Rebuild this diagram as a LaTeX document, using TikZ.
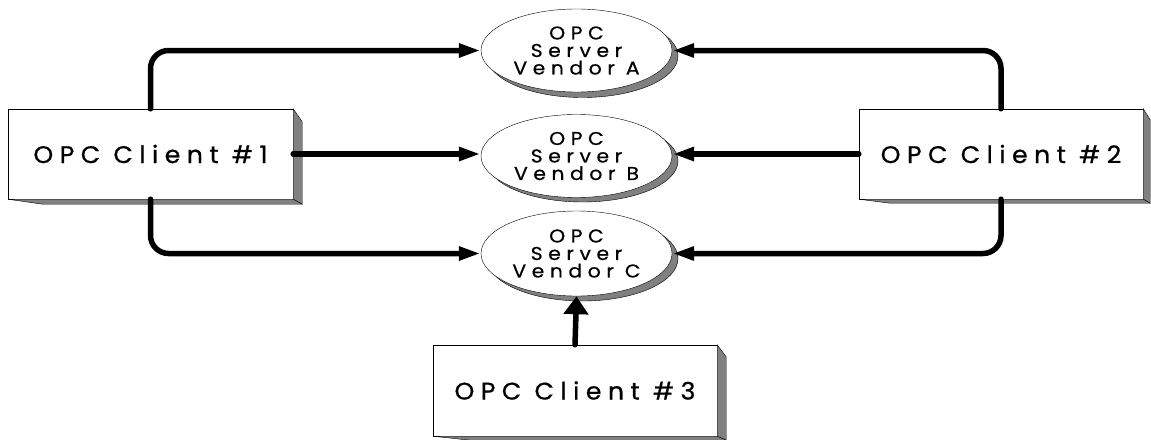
\documentclass[tikz,border=0pt]{standalone}
\usepackage{fontspec}
\setmainfont{Poppins}
\usepackage{tikz}
\usetikzlibrary{arrows.meta,shapes.geometric}
\definecolor{sidegrey}{RGB}{128,128,128}

\begin{document}
\begin{tikzpicture}[x=1pt,y=-1pt,
		client/.style={draw=black, fill=white, thin, minimum width=285pt, minimum height=90pt, inner sep=0pt, font=\fontsize{24}{26}\selectfont\addfontfeature{LetterSpace=27,FakeStretch=1.05,FakeBold=0.7}},
		server/.style={ellipse, draw=black, fill=white, thin, minimum width=191pt, minimum height=83pt, inner sep=0pt, align=center, font=\fontsize{18.5}{17.5}\selectfont\addfontfeature{LetterSpace=30,FakeStretch=1.1,FakeBold=0.6}},
		side/.style={draw=black, fill=sidegrey, thin},
		link/.style={line width=5.5pt, line cap=round, rounded corners=18pt, -{Triangle[length=22pt,width=13pt]}}]

		\useasboundingbox (0,0) rectangle (1151,439);

		% shadows of the servers
		\draw[side] (582.5,56) ellipse (95.5 and 41.5);
		\draw[side] (582.5,161) ellipse (95.5 and 41);
		\draw[side] (582.5,258.5) ellipse (95.5 and 42.5);

		% servers
		\node[server] (srvA) at (576.5,50.5) {OPC\\Server\\Vendor A};
		\node[server] (srvB) at (576.5,156) {OPC\\Server\\Vendor B};
		\node[server, minimum height=85pt] (srvC) at (576.5,253.5) {OPC\\Server\\Vendor C};

		% clients
		\node[client] (cl1) at (150.5,154) {OPC Client \#1};
		\node[client, minimum width=284pt] (cl2) at (1001,154) {OPC Client \#2};
		\node[client, minimum width=284pt, minimum height=91pt] (cl3) at (575,390.5) {OPC Client \#3};

		% sides and bottoms of the client boxes
		\draw[side] (cl1.north east) -- ++(9,13) -- ([shift={(9,5)}]cl1.south east) -- (cl1.south east) -- cycle;
		\draw[side] (cl1.south west) -- ([shift={(35,5)}]cl1.south west) -- ([shift={(9,5)}]cl1.south east) -- (cl1.south east) -- cycle;
		\draw[side] (cl2.north east) -- ++(7,11) -- ([shift={(7,4)}]cl2.south east) -- (cl2.south east) -- cycle;
		\draw[side] (cl2.south west) -- ([shift={(31,4)}]cl2.south west) -- ([shift={(7,4)}]cl2.south east) -- (cl2.south east) -- cycle;
		\draw[side] (cl3.north east) -- ++(9,12) -- ([shift={(9,4)}]cl3.south east) -- (cl3.south east) -- cycle;
		\draw[side] (cl3.south west) -- ([shift={(37,4)}]cl3.south west) -- ([shift={(9,4)}]cl3.south east) -- (cl3.south east) -- cycle;

		% client #1 to the servers
		\draw[link] (cl1.north) |- (srvA.west);
		\draw[link] (cl1.east) -- (cl1.east -| srvB.west);
		\draw[link] (cl1.south) |- (srvC.west);

		% client #2 to the servers
		\draw[link] (cl2.north) |- (srvA.east);
		\draw[link] (cl2.west) -- (cl2.west -| srvB.east);
		\draw[link] (cl2.south) |- (srvC.east);

		% client #3 to server C
		\draw[link, -{Triangle[length=18pt,width=24pt]}] (cl3.north) -- (srvC.south);

\end{tikzpicture}
\end{document}
